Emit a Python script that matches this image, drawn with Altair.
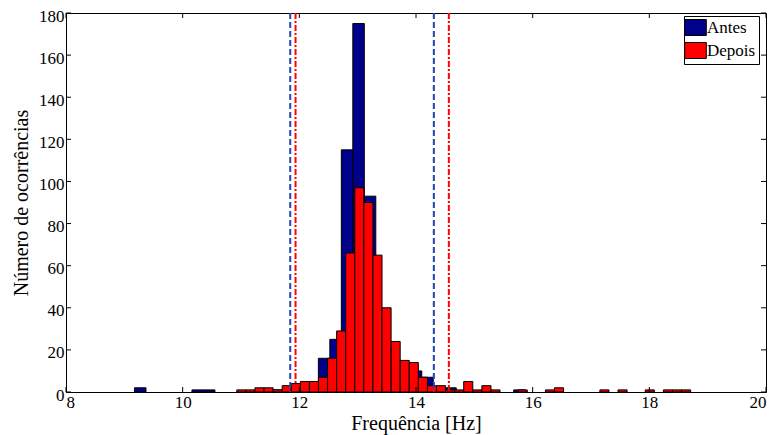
import altair as alt
import pandas as pd

# ---------------- data ----------------
series_names = ["Antes", "Depois"]

antes_start = 9.174
antes_width = 0.197
antes_counts = [2, 0, 0, 0, 0, 1, 1, 0, 0, 0, 0, 0, 1, 2, 3, 4, 16, 25, 115, 175,
                93, 38, 22, 12, 10, 7, 2, 2, 0, 0, 0, 0, 0, 1]

depois_start = 10.928
depois_width = 0.1556
depois_counts = [1, 1, 2, 2, 1, 3, 4, 5, 5, 7, 16, 29, 66, 97, 90, 65, 40, 24, 15, 14,
                 7, 3, 3, 1, 1, 5, 1, 3, 1, 0, 0, 1, 0, 0, 1, 2, 0, 0, 0, 0,
                 1, 0, 1, 0, 0, 1, 0, 1, 1, 1]

antes_lines = [11.844, 14.306]
depois_lines = [11.935, 14.563]

x_ticks = [8, 10, 12, 14, 16, 18, 20]
y_ticks = [0, 20, 40, 60, 80, 100, 120, 140, 160, 180]

x_title = "Frequência [Hz]"
y_title = "Número de ocorrências"

# ---------------- build tables ----------------
def hist_table(start, width, counts, name):
    rows = []
    for i, c in enumerate(counts):
        if c > 0:
            x0 = start + i * width
            rows.append({"x": x0, "x2": x0 + width, "count": c, "base": 0, "serie": name})
    return pd.DataFrame(rows)

df_antes = hist_table(antes_start, antes_width, antes_counts, "Antes")
df_depois = hist_table(depois_start, depois_width, depois_counts, "Depois")
df_xt = pd.DataFrame({"x": x_ticks})
df_yt = pd.DataFrame({"count": y_ticks})
df_la = pd.DataFrame({"x": antes_lines})
df_ld = pd.DataFrame({"x": depois_lines})

W, H = 700, 379
FONT = "Liberation Serif"

xscale = alt.Scale(domain=[8, 20], nice=False, zero=False)
yscale = alt.Scale(domain=[0, 180], nice=False)
xaxis = alt.Axis(values=x_ticks, tickSize=0, labelPadding=2, grid=False,
                 titlePadding=3, format="d")
yaxis = alt.Axis(values=y_ticks, tickSize=0, labelPadding=2, grid=False,
                 titlePadding=7, format="d", labelOffset=3)

def X(field="x"):
    return alt.X(f"{field}:Q", scale=xscale, axis=xaxis, title=x_title)

def Y(field="count"):
    return alt.Y(f"{field}:Q", scale=yscale, axis=yaxis, title=y_title, stack=None)

color = alt.Color(
    "serie:N",
    scale=alt.Scale(domain=series_names, range=["#00008B", "#FF0000"]),
    legend=alt.Legend(
        title=None, orient="none", legendX=618, legendY=3,
        symbolType="M-1.35,-1L1.35,-1L1.35,1L-1.35,1Z", symbolSize=256,
        symbolStrokeColor="black", symbolStrokeWidth=1, symbolOpacity=1,
        labelFont=FONT, labelFontSize=17, labelColor="black",
        strokeColor="black", fillColor="white", padding=3, rowPadding=2,
        labelOffset=3,
    ),
)

bars_a = alt.Chart(df_antes).mark_bar(stroke="black", strokeWidth=1, opacity=1).encode(
    x=X("x"), x2="x2:Q", y=Y("count"), y2="base:Q", color=color)
bars_d = alt.Chart(df_depois).mark_bar(stroke="black", strokeWidth=1, opacity=1).encode(
    x=X("x"), x2="x2:Q", y=Y("count"), y2="base:Q", color=color)

line_a = alt.Chart(df_la).mark_rule(color="#2545B0", strokeWidth=2, strokeDash=[6, 3]).encode(
    x=X("x"), y=alt.value(0), y2=alt.value(H))
line_d = alt.Chart(df_ld).mark_rule(color="#FF0000", strokeWidth=2, strokeDash=[6, 2, 2, 2]).encode(
    x=X("x"), y=alt.value(0), y2=alt.value(H))

tick_b = alt.Chart(df_xt).mark_rule(color="black").encode(
    x=X("x"), y=alt.value(H), y2=alt.value(H - 5))
tick_t = alt.Chart(df_xt).mark_rule(color="black").encode(
    x=X("x"), y=alt.value(0), y2=alt.value(5))
tick_l = alt.Chart(df_yt).mark_rule(color="black").encode(
    y=Y("count"), x=alt.value(0), x2=alt.value(5))
tick_r = alt.Chart(df_yt).mark_rule(color="black").encode(
    y=Y("count"), x=alt.value(W), x2=alt.value(W - 5))

chart = alt.layer(bars_a, bars_d, line_a, line_d, tick_b, tick_t, tick_l, tick_r).properties(
    width=W, height=H,
    background="white",
    autosize=alt.AutoSizeParams(type="none"),
    padding={"left": 58, "top": 5, "right": 3, "bottom": 50},
).configure_view(stroke="black", strokeWidth=1).configure_axis(
    domainColor="black", labelFont=FONT, labelFontSize=17, labelColor="black",
    titleFont=FONT, titleFontSize=20, titleFontWeight="normal", titleColor="black",
)

chart.save("out.html", embed_options={"renderer": "svg", "actions": False})
